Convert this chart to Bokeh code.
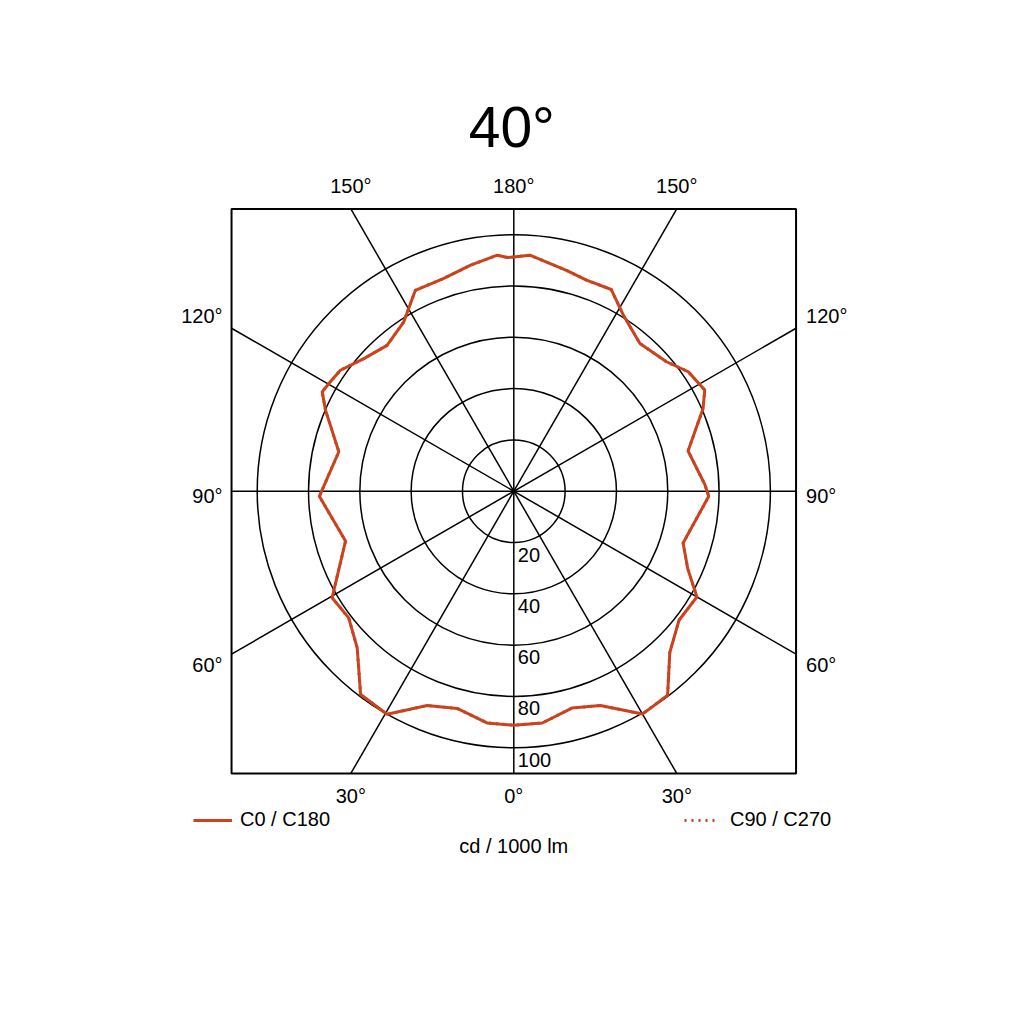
import math
from bokeh.plotting import figure
from bokeh.models import Range1d, ColumnDataSource, Legend, LegendItem
from bokeh.embed import file_html
from bokeh.resources import INLINE
from bokeh.core.properties import value

# ---------------- data ----------------
TITLE = "40°"
UNIT_LABEL = "cd / 1000 lm"
SERIES_C0_LABEL = "C0 / C180"
SERIES_C90_LABEL = "C90 / C270"

RING_VALUES = [20, 40, 60, 80, 100]
RING_LABELS = ["20", "40", "60", "80", "100"]
SPOKE_ANGLES = [0, 30, 60, 90, 120, 150]
BOX_LIMIT = 110

# angle labels around the box: angle, side (-1 left half, 0 axis, 1 right half)
EDGE_ANGLES = [150, 180, 150, 120, 90, 60, 120, 90, 60, 30, 0, 30]
EDGE_SIDES = [-1, 0, 1, -1, -1, -1, 1, 1, 1, -1, 0, 1]
EDGE_TEXTS = [f"{a}°" for a in EDGE_ANGLES]

# C0 half-plane (drawn to the right), gamma in degrees, intensity cd/1000 lm
C0_GAMMA = [0, 7, 15, 22, 30, 37, 44, 52, 60, 66, 73, 88.5, 92, 103, 113.6, 117.9,
            124.4, 130.3, 139.5, 148.1, 154.2, 161, 166.6, 176.1, 180]
C0_VALUE = [91.2, 91.0, 87.5, 90.1, 100.3, 99.6, 87.5, 81.7, 82.4, 74.2, 69.0, 76.0,
            74.5, 69.7, 80.5, 84.2, 82.4, 78.0, 75.7, 80.8, 87.3, 87.0, 88.5, 92.2, 91.3]

# C180 half-plane (drawn to the left)
C180_GAMMA = [0, 6.6, 14.6, 22, 29.6, 37, 45, 52.5, 59.6, 73.5, 88.5, 102.7, 113.3,
              117.4, 120.2, 124.9, 131.5, 139, 147, 153.9, 161.8, 169.2, 176, 178.4, 180]
C180_VALUE = [91.2, 90.9, 87.5, 90.1, 100.0, 99.2, 86.3, 81.1, 82.1, 68.4, 75.8, 69.9,
              79.9, 84.1, 83.4, 82.4, 78.0, 75.3, 78.7, 87.2, 87.3, 89.7, 92.2, 91.1, 91.3]

# ---------------- styling ----------------
RED = "#c9441e"
FONT = "Liberation Sans"
W = H = 1008
CX, CY = 513.3, 490.7      # canvas pixel position of the pole
SCALE = 2.566              # px per cd/1000 lm

x0 = (0 - CX) / SCALE
x1 = (W - CX) / SCALE
y1 = (CY - 0) / SCALE
y0 = (CY - H) / SCALE

p = figure(width=W, height=H, x_range=Range1d(x0, x1), y_range=Range1d(y0, y1),
           x_axis_type=None, y_axis_type=None, min_border=0,
           toolbar_location=None, output_backend="svg", outline_line_color=None)
p.background_fill_color = "white"
p.border_fill_color = "white"

# rings
p.circle(x=[0] * len(RING_VALUES), y=[0] * len(RING_VALUES), radius=RING_VALUES,
         fill_color=None, line_color="black", line_width=1.5)

# spokes
sx0, sy0, sx1, sy1 = [], [], [], []
for a in SPOKE_ANGLES:
    dx, dy = math.sin(math.radians(a)), -math.cos(math.radians(a))
    t = BOX_LIMIT / max(abs(dx), abs(dy))
    sx0.append(-t * dx); sy0.append(-t * dy); sx1.append(t * dx); sy1.append(t * dy)
p.segment(x0=sx0, y0=sy0, x1=sx1, y1=sy1, line_color="black", line_width=1.5)

# frame box
p.rect(x=[0], y=[0], width=[2 * BOX_LIMIT], height=[2 * BOX_LIMIT],
       fill_color=None, line_color="black", line_width=2)

# curve C0/C180 (C90/C270 coincides and lies beneath it)
xs, ys = [], []
for g, v in zip(reversed(C180_GAMMA), reversed(C180_VALUE)):
    xs.append(-v * math.sin(math.radians(g))); ys.append(-v * math.cos(math.radians(g)))
for g, v in zip(C0_GAMMA, C0_VALUE):
    xs.append(v * math.sin(math.radians(g))); ys.append(-v * math.cos(math.radians(g)))
r_c90 = p.line(x=xs, y=ys, line_color=RED, line_width=3, line_dash="2 5")
r_c0 = p.line(x=xs, y=ys, line_color=RED, line_width=3, line_join="round")

# edge angle labels
side_offsets = {120: -12, 90: 5, 60: 11}
groups = {k: ([], [], [], []) for k in ("top", "bottom", "left", "right")}
for a, s, txt in zip(EDGE_ANGLES, EDGE_SIDES, EDGE_TEXTS):
    dx = s * math.sin(math.radians(a)); dy = -math.cos(math.radians(a))
    t = BOX_LIMIT / max(abs(dx), abs(dy))
    px, py = t * dx, t * dy
    if abs(px) < BOX_LIMIT - 1e-6:
        key = "top" if py > 0 else "bottom"
        off = 0
    else:
        key = "left" if px < 0 else "right"
        off = side_offsets[a]
    g = groups[key]
    g[0].append(px); g[1].append(py); g[2].append(txt); g[3].append(off)

common = dict(text_font=value(FONT), text_font_size="20px", text_color="black")

def src(key):
    g = groups[key]
    return ColumnDataSource(dict(x=g[0], y=g[1], t=g[2], dy=g[3]))

p.text(x="x", y="y", text="t", source=src("top"), text_align="center",
       text_baseline="middle", y_offset=-23, **common)
p.text(x="x", y="y", text="t", source=src("bottom"), text_align="center",
       text_baseline="middle", y_offset=23, **common)
p.text(x="x", y="y", text="t", y_offset="dy", source=src("left"),
       text_align="right", text_baseline="middle", x_offset=-9, **common)
p.text(x="x", y="y", text="t", y_offset="dy", source=src("right"),
       text_align="left", text_baseline="middle", x_offset=10, **common)

# ring value labels
p.text(x=[0] * len(RING_VALUES), y=[-v for v in RING_VALUES], text=RING_LABELS,
       text_align="left", text_baseline="middle", x_offset=4, y_offset=12, **common)

# title and unit
p.text(x=[0], y=[(CY - 126) / SCALE], text=[TITLE], text_align="center", text_baseline="middle",
       x_offset=-2, text_font=value(FONT), text_font_size="57px", text_color="black")
p.text(x=[0], y=[(CY - 845) / SCALE], text=[UNIT_LABEL], text_align="center", text_baseline="middle",
       **common)

# legends
leg_common = dict(padding=0, margin=0, border_line_color=None, background_fill_alpha=0,
                  label_text_font=FONT, label_text_font_size="20px", label_text_color="black",
                  glyph_height=20, label_height=20, orientation="horizontal")
leg1 = Legend(items=[LegendItem(label=SERIES_C0_LABEL, renderers=[r_c0])],
              location=(193, 177), glyph_width=39, label_standoff=8, **leg_common)
leg2 = Legend(items=[LegendItem(label=SERIES_C90_LABEL, renderers=[r_c90])],
              location=(684, 177), glyph_width=34, label_standoff=12, **leg_common)
p.add_layout(leg1)
p.add_layout(leg2)

open("out.html", "w").write(file_html(p, INLINE))
